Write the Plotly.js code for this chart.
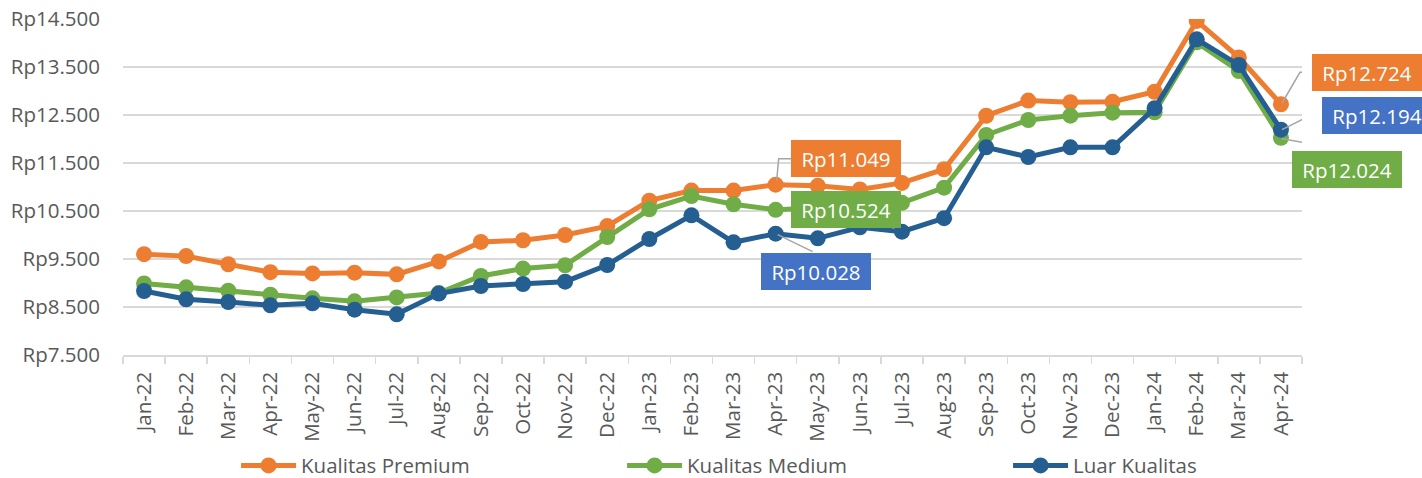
<!DOCTYPE html>
<html>
<head>
<meta charset="utf-8">
<script src="https://cdn.plot.ly/plotly-3.0.1.min.js"></script>
<style>html,body{margin:0;padding:0;background:#fff;}#chart{width:1422px;height:478px;}</style>
</head>
<body>
<div id="chart"></div>
<script>
const categories = ["Jan-22","Feb-22","Mar-22","Apr-22","May-22","Jun-22","Jul-22","Aug-22","Sep-22","Oct-22","Nov-22","Dec-22",
  "Jan-23","Feb-23","Mar-23","Apr-23","May-23","Jun-23","Jul-23","Aug-23","Sep-23","Oct-23","Nov-23","Dec-23",
  "Jan-24","Feb-24","Mar-24","Apr-24"];
const premium = [9600,9560,9390,9225,9200,9215,9180,9450,9855,9890,10000,10185,
  10715,10925,10925,11049,11025,10950,11085,11370,12485,12800,12765,12775,
  12985,14460,13700,12724];
const medium = [8990,8910,8840,8757,8680,8618,8700,8790,9146,9300,9370,9958,
  10535,10812,10640,10524,10550,10600,10670,10986,12083,12396,12486,12548,
  12556,14014,13417,12024];
const luar = [8833,8660,8604,8535,8577,8444,8348,8780,8938,8979,9028,9375,
  9917,10410,9848,10028,9931,10160,10070,10350,11827,11625,11827,11827,
  12640,14077,13542,12194];
const seriesNames = ["Kualitas Premium","Kualitas Medium","Luar Kualitas"];
const lineColors = ["#ED7D31","#70AD47","#255E91"];
const labelColors = ["#ED7D31","#70AD47","#4472C4"];

const FONT = "Open Sans, Noto Sans, sans-serif";
const TXT = "#595959";

function fmt(v){ return "Rp" + v.toLocaleString("de-DE"); }

const traces = [premium, medium, luar].map((ys, i) => ({
  type: "scatter", mode: "lines+markers", name: seriesNames[i],
  x: categories, y: ys,
  line: {color: lineColors[i], width: 5},
  marker: {color: lineColors[i], size: 16},
  hoverinfo: "skip"
}));

// callouts: [series data, series index, category index, xshift, yshift, leader path (pixels, y up)]
const callouts = [
  [premium, 0, 15, 70, 26, "M1,4 L3,26 L16,26"],
  [medium, 1, 15, 70, 0, null],
  [luar, 2, 15, 40, -38, "M2,-1 L37,-18"],
  [premium, 0, 27, 86, 32, "M1,1 L19,32 L32,32"],
  [luar, 2, 27, 96, 14, "M1,0 L31,15 L44,15"],
  [medium, 1, 27, 66, -32, "M1,-1 L61,-11"]
];

const annotations = callouts.map(c => ({
  x: categories[c[2]], y: c[0][c[2]], xref: "x", yref: "y",
  text: fmt(c[0][c[2]]), showarrow: false,
  xshift: c[3], yshift: c[4],
  font: {family: FONT, size: 20.5, color: "#ffffff"},
  bgcolor: labelColors[c[1]], bordercolor: labelColors[c[1]], borderwidth: 1,
  borderpad: 4, width: 100, height: 27
}));

const shapes = callouts.filter(c => c[5]).map(c => ({
  type: "path", xref: "x", yref: "y",
  xsizemode: "pixel", ysizemode: "pixel",
  xanchor: categories[c[2]], yanchor: c[0][c[2]],
  path: c[5], line: {color: "#A6A6A6", width: 1.5}
}));

const layout = {
  width: 1422, height: 478,
  margin: {l: 123, r: 120, t: 19, b: 123, pad: 0},
  paper_bgcolor: "#ffffff", plot_bgcolor: "#ffffff",
  separators: ",.",
  font: {family: FONT, size: 20.5, color: TXT},
  showlegend: true,
  legend: {
    orientation: "h", xref: "container", yref: "container",
    x: 0.166, xanchor: "left", y: 0.026, yanchor: "middle",
    font: {family: FONT, size: 20.5, color: TXT},
    itemwidth: 55, entrywidth: 316, tracegroupgap: 0,
    bgcolor: "rgba(0,0,0,0)"
  },
  xaxis: {
    type: "category", range: [-0.5, categories.length - 0.5],
    tickangle: -90, tickson: "boundaries", ticks: "outside", ticklen: 7,
    tickcolor: "#D9D9D9", tickwidth: 1.5, ticklabelstandoff: 7,
    showline: true, linecolor: "#D9D9D9", linewidth: 1.5,
    showgrid: false, zeroline: false, fixedrange: true,
    tickfont: {family: FONT, size: 20.5, color: TXT}
  },
  yaxis: {
    range: [7500, 14500], dtick: 1000, tick0: 7500,
    tickprefix: "Rp", tickformat: ",d",
    showgrid: true, gridcolor: "#D9D9D9", gridwidth: 1.5,
    zeroline: false, showline: false, ticks: "", ticklabelstandoff: 22,
    fixedrange: true,
    tickfont: {family: FONT, size: 20.5, color: TXT}
  },
  annotations: annotations,
  shapes: shapes
};

Plotly.newPlot("chart", traces, layout, {displayModeBar: false, staticPlot: true});
</script>
</body>
</html>
